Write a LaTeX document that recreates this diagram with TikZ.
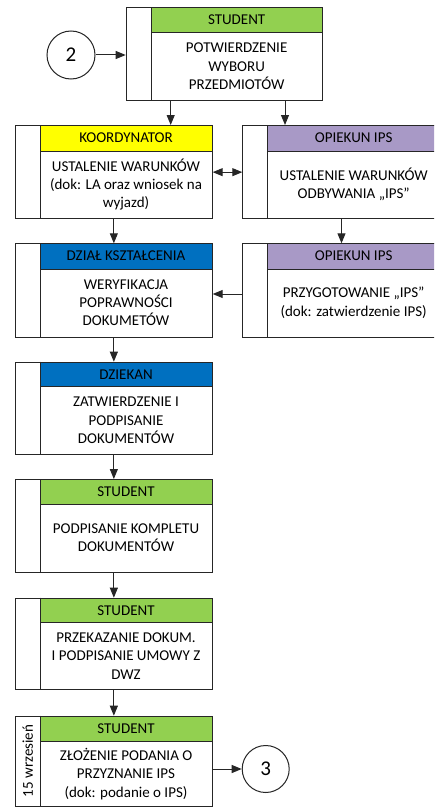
\documentclass[tikz,border=0pt]{standalone}
\usepackage{fontspec}
\setmainfont{Carlito}
\usetikzlibrary{arrows.meta}
\definecolor{hgreen}{RGB}{146,208,80}
\definecolor{hyellow}{RGB}{255,255,0}
\definecolor{hpurple}{RGB}{168,153,198}
\definecolor{hblue}{RGB}{0,112,192}
\tikzset{
  ln/.style={draw=black!85, line width=1pt},
  outer/.style={ln, rectangle, inner sep=0pt},
  txt/.style={align=center, inner sep=0pt, font=\fontsize{15}{18.3}\selectfont},
  circ/.style={ln, circle, inner sep=0pt, font=\fontsize{21}{24}\selectfont},
  arr/.style={ln, -{Triangle[length=10pt,width=8pt]}},
  darr/.style={ln, {Triangle[length=10pt,width=8pt]}-{Triangle[length=10pt,width=8pt]}},
}
% #1 name, #2 L, #3 T, #4 R, #5 H (header bottom), #6 B, #7 colour, #8 header, #9 body
\newcommand\pbox[9]{%
  \fill[#7] ({#2+25.3},#3) rectangle (#4,#5);
  \draw[ln] ({#2+25.3},#3) -- ({#2+25.3},#6) ({#2+25.3},#5) -- (#4,#5);
  \node[outer, minimum width={(#4-#2)*1pt}, minimum height={(#6-#3)*1pt}, anchor=north west] (#1) at (#2,#3) {};
  \node[txt] (#1h) at ({(#2+25.3+#4)/2},{(#3+#5)/2}) {#8};
  \node[txt] (#1b) at ({(#2+25.3+#4)/2},{(#5+#6)/2}) {#9};
}
\begin{document}
\begin{tikzpicture}[x=1pt,y=-1pt]
\useasboundingbox (0,0) rectangle (434,808);
\clip (0,0) rectangle (434,808);
\fill[white] (0,0) rectangle (434,808);

\pbox{top}{125.7}{7.3}{322.3}{32.7}{100}{hgreen}{STUDENT}{POTWIERDZENIE\\WYBORU\\PRZEDMIOTÓW}
\pbox{k}{15}{125}{211.7}{151}{218.3}{hyellow}{KOORDYNATOR}{USTALENIE WARUNKÓW\\(dok: LA oraz wniosek na\\wyjazd)}
\pbox{oa}{242.3}{125}{439.7}{151}{218.3}{hpurple}{OPIEKUN IPS}{USTALENIE WARUNKÓW\\ODBYWANIA „IPS”}
\pbox{dz}{15}{243.3}{211.7}{269}{336.7}{hblue}{DZIAŁ KSZTAŁCENIA}{WERYFIKACJA\\POPRAWNOŚCI\\DOKUMETÓW}
\pbox{ob}{242.3}{243.3}{439.7}{269}{336.7}{hpurple}{OPIEKUN IPS}{PRZYGOTOWANIE „IPS”\\(dok: zatwierdzenie IPS)}
\pbox{dk}{15}{361.7}{211.7}{386.7}{454}{hblue}{DZIEKAN}{ZATWIERDZENIE I\\PODPISANIE\\DOKUMENTÓW}
\pbox{sa}{15}{479}{211.7}{504.3}{571.7}{hgreen}{STUDENT}{PODPISANIE KOMPLETU\\DOKUMENTÓW}
\pbox{sb}{15}{597.7}{211.7}{622.7}{689.3}{hgreen}{STUDENT}{PRZEKAZANIE DOKUM.\\I PODPISANIE UMOWY Z\\DWZ}
\pbox{sc}{15}{715.7}{211.7}{741.7}{806}{hgreen}{STUDENT}{ZŁOŻENIE PODANIA O\\PRZYZNANIE IPS\\(dok: podanie o IPS)}

\node[txt, rotate=90] (date) at (27.7,761) {15 wrzesień};

\node[circ, minimum size=48pt] (c2) at (71,55) {2};
\node[circ, minimum size=47pt] (c3) at (265.7,769) {3};

\coordinate (xa) at (170.7,0);
\coordinate (xb) at (285,0);
\coordinate (yb) at (0,294);

\draw[arr] (c2.east) -- (top.west |- c2.east);
\draw[arr] (top.south -| xa) -- (k.north -| xa);
\draw[arr] (top.south -| xb) -- (oa.north -| xb);
\draw[darr] (k.east) -- (oa.west);
\draw[arr] (k.south) -- (dz.north);
\draw[arr] (oa.south) -- (ob.north);
\draw[arr] (ob.west |- yb) -- (dz.east |- yb);
\draw[arr] (dz.south) -- (dk.north);
\draw[arr] (dk.south) -- (sa.north);
\draw[arr] (sa.south) -- (sb.north);
\draw[arr] (sb.south) -- (sc.north);
\draw[arr] (sc.east |- c3) -- (c3.west);
\end{tikzpicture}
\end{document}
